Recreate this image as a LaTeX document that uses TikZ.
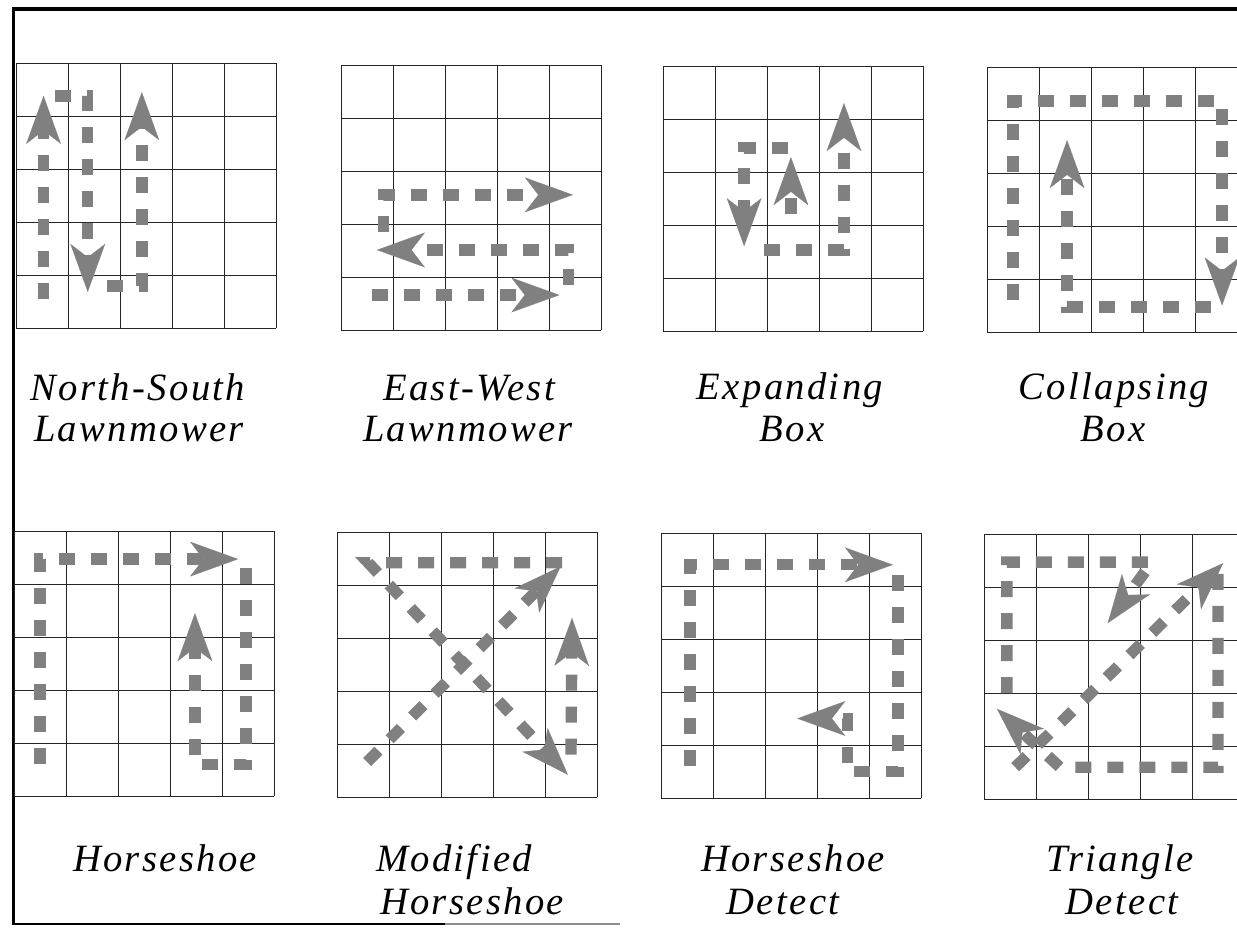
\documentclass[tikz,border=0pt]{standalone}
\usepackage{fontspec}
\setmainfont{Liberation Serif}
\newfontfamily\capfont[LetterSpace=6]{Liberation Serif}
\usetikzlibrary{arrows.meta}
\definecolor{SweepGray}{RGB}{128,128,128}
\tikzset{
	cellline/.style={draw=black!85,line width=0.6pt},
	frameline/.style={draw=black,line width=2.4pt},
	sweep/.style={draw=SweepGray,line width=8.5pt,dash pattern=on 12pt off 12pt,
		-{Stealth[length=36pt,width=26pt,inset=10pt,line width=0.1pt]}},
	cellunits/.style={x=39pt,y=-39.75pt},
	caption/.style={anchor=base,inner sep=0pt,font=\capfont\itshape\fontsize{29}{34}\selectfont},
}
\newcommand{\cellgrid}{%
	\foreach \k in {0,...,5}{
		\draw[cellline] (\k,0)--(\k,5);
		\draw[cellline] (0,\k)--(5,\k);
	}}

\begin{document}
\begin{tikzpicture}[x=0.75pt,y=-0.75pt]
	\useasboundingbox (0,0) rectangle (1237,930);
	\clip (0,0) rectangle (1237,930);
	% frame
	\draw[frameline,line width=2.8pt] (13.5,7.5) -- (13.5,925);
	\draw[frameline] (12,9) -- (1237,9);
	\draw[frameline,line width=1.4pt] (13.5,924) -- (445,924);
	\draw[frameline,line width=1.4pt,draw=black!45] (445,924) -- (620,924);
	% north-south lawnmower
	\begin{scope}[shift={(16,63)},cellunits]
		\cellgrid
		\draw[sweep] (0.53,4.45) -- (0.53,0.62);
		\draw[sweep] (0.75,0.62) -- (1.38,0.62) -- (1.38,4.32);
		\draw[sweep] (1.75,4.21) -- (2.42,4.21) -- (2.42,0.55);
	\end{scope}
	% east-west lawnmower
	\begin{scope}[shift={(341,65)},cellunits]
		\cellgrid
		\draw[sweep] (0.6,4.34) -- (4.2,4.34);
		\draw[sweep] (4.37,4.15) -- (4.37,3.49) -- (0.69,3.49);
		\draw[sweep] (0.82,3.15) -- (0.82,2.45) -- (4.46,2.45);
	\end{scope}
	% expanding box
	\begin{scope}[shift={(663,66)},cellunits]
		\cellgrid
		\draw[sweep] (2.46,2.8) -- (2.46,1.72);
		\draw[sweep] (2.4,1.55) -- (1.56,1.55) -- (1.56,3.4);
		\draw[sweep] (1.95,3.47) -- (3.48,3.47) -- (3.48,0.7);
	\end{scope}
	% collapsing box
	\begin{scope}[shift={(987,67)},cellunits]
		\cellgrid
		\draw[sweep] (0.5,4.4) -- (0.5,0.64) -- (4.52,0.64) -- (4.52,4.5);
		\draw[sweep] (4.3,4.53) -- (1.54,4.53) -- (1.54,1.38);
	\end{scope}
	% horseshoe
	\begin{scope}[shift={(14,531)},cellunits]
		\cellgrid
		\draw[sweep] (0.5,4.4) -- (0.5,0.53) -- (4.31,0.53);
		\draw[sweep] (4.46,0.7) -- (4.46,4.4) -- (3.48,4.4) -- (3.48,1.55);
	\end{scope}
	% modified horseshoe
	\begin{scope}[shift={(337,532)},cellunits]
		\cellgrid
		\draw[sweep] (0.58,4.34) -- (4.3,0.65);
		\draw[sweep] (4.33,0.58) -- (0.6,0.58) -- (4.44,4.58);
		\draw[sweep] (4.5,4.2) -- (4.52,1.62);
	\end{scope}
	% horseshoe detect
	\begin{scope}[shift={(661,533)},cellunits]
		\cellgrid
		\draw[sweep] (0.56,4.4) -- (0.56,0.6) -- (4.46,0.6);
		\draw[sweep] (4.56,0.8) -- (4.56,4.5) -- (3.58,4.5) -- (3.58,3.5) -- (2.62,3.5);
	\end{scope}
	% triangle detect
	\begin{scope}[shift={(984,534)},cellunits]
		\cellgrid
		\draw[sweep] (0.6,4.4) -- (4.6,0.55);
		\draw[sweep] (4.5,0.75) -- (4.5,4.4) -- (1.46,4.4) -- (0.25,3.3);
		\draw[sweep] (0.44,3.0) -- (0.44,0.53) -- (3.23,0.53) -- (2.38,1.68);
	\end{scope}
	% captions
	\node[caption] (ns1) at (138,400) {North-South};
	\node[caption] (ns2) at (139,441) {Lawnmower};
	\node[caption] (ew1) at (469,400) {East-West};
	\node[caption] (ew2) at (468,441) {Lawnmower};
	\node[caption] (ex1) at (790,399) {Expanding};
	\node[caption] (ex2) at (792,441) {Box};
	\node[caption] (co1) at (1114,399) {Collapsing};
	\node[caption] (co2) at (1113,441) {Box};
	\node[caption] (hs1) at (165,871) {Horseshoe};
	\node[caption] (mh1) at (454,871) {Modified};
	\node[caption] (mh2) at (472,914) {Horseshoe};
	\node[caption] (hd1) at (793,871) {Horseshoe};
	\node[caption] (hd2) at (783,914) {Detect};
	\node[caption] (td1) at (1120,871) {Triangle};
	\node[caption] (td2) at (1122,914) {Detect};
\end{tikzpicture}
\end{document}
